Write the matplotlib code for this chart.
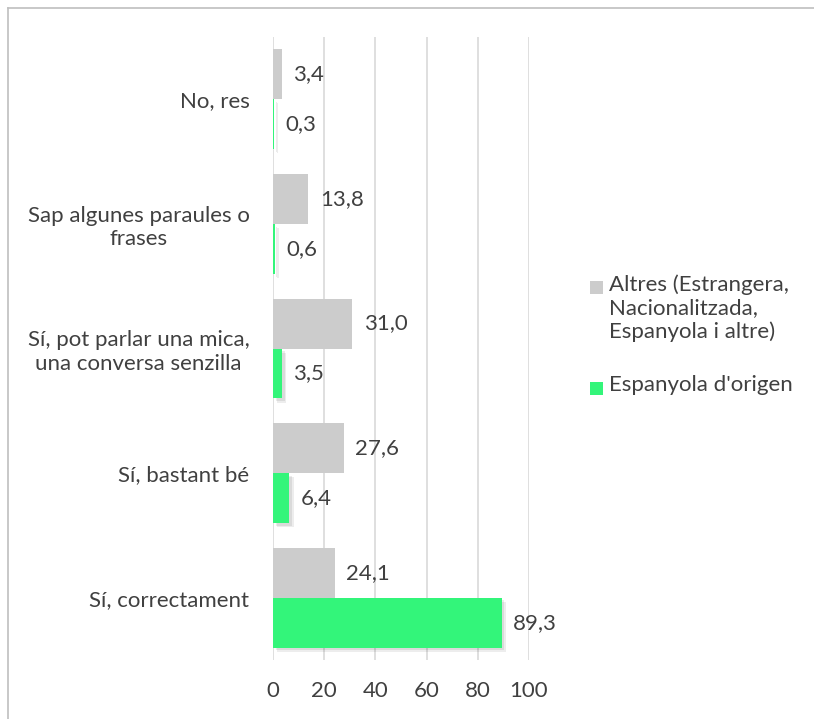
import matplotlib.pyplot as plt
import matplotlib.patheffects as pe
import numpy as np
from matplotlib.lines import Line2D
from matplotlib.patches import Rectangle

plt.rcParams['font.family'] = ['Lato', 'DejaVu Sans']

categories = [
    "Sí, correctament",
    "Sí, bastant bé",
    "Sí, pot parlar una mica,\nuna conversa senzilla",
    "Sap algunes paraules o\nfrases",
    "No, res",
]
altres = [24.1, 27.6, 31.0, 13.8, 3.4]
espanyola = [89.3, 6.4, 3.5, 0.6, 0.3]
series_names = ["Altres (Estrangera,\nNacionalitzada,\nEspanyola i altre)", "Espanyola d'origen"]
xticks = [0, 20, 40, 60, 80, 100]

gray = "#cccccc"
green = "#33f57a"
text_col = "#404040"
fs = 16
W, H = 814, 719

fig = plt.figure(figsize=(W / 100, H / 100), dpi=100)
ax = fig.add_axes([273 / W, 59 / H, 256 / W, 623 / H])

y = np.arange(len(categories))
h = 0.4
ax.barh(y + h / 2, altres, height=h, color=gray, zorder=2)
# soft drop shadow on the green bars
shadow = [pe.SimplePatchShadow(offset=(3, -3), shadow_rgbFace="black", alpha=0.07),
          pe.SimplePatchShadow(offset=(2, -2), shadow_rgbFace="black", alpha=0.08),
          pe.Normal()]
bars_g = ax.barh(y - h / 2, espanyola, height=h, color=green, zorder=2)
for b in bars_g:
    b.set_path_effects(shadow)

for yi, v in zip(y, altres):
    ax.text(v + 4.5, yi + h / 2, f"{v:.1f}".replace(".", ","), va="center", ha="left",
            fontsize=fs, color=text_col)
for yi, v in zip(y, espanyola):
    ax.text(v + 4.5, yi - h / 2, f"{v:.1f}".replace(".", ","), va="center", ha="left",
            fontsize=fs, color=text_col)

ax.set_xlim(0, 100)
ax.set_ylim(-0.5, len(categories) - 0.5)
ax.set_xticks(xticks)
ax.set_xticklabels([str(t) for t in xticks], fontsize=fs, color=text_col)
ax.set_yticks(y)
ax.set_yticklabels(categories, fontsize=fs, color=text_col, ha="right",
                   multialignment="center")
ax.tick_params(axis="y", length=0, pad=17)
ax.tick_params(axis="x", length=0, pad=15)
ax.grid(axis="x", color="#d9d9d9", linewidth=1.2, zorder=0)
for s in ax.spines.values():
    s.set_visible(False)

# legend, drawn by hand so the marker sits at the first text line
leg_items = [(series_names[0], gray, 287), (series_names[1], green, 388)]
for label, col, py in leg_items:
    fig.add_artist(Rectangle(((590) / W, 1 - (py + 7) / H), 13 / W, 13 / H,
                             transform=fig.transFigure, facecolor=col, edgecolor="none"))
    fig.text(609 / W, 1 - (py - 13) / H, label, ha="left", va="top", fontsize=fs,
             color=text_col, linespacing=1.2)

# outer chart border (only left/top visible in the crop)
fig.add_artist(Line2D([8 / W, 8 / W], [0, 1 - 8 / H], color="#bfbfbf", lw=1.2))
fig.add_artist(Line2D([8 / W, 1.0], [1 - 8 / H, 1 - 8 / H], color="#bfbfbf", lw=1.2))

fig.savefig("out.png", dpi=100, facecolor="white")
